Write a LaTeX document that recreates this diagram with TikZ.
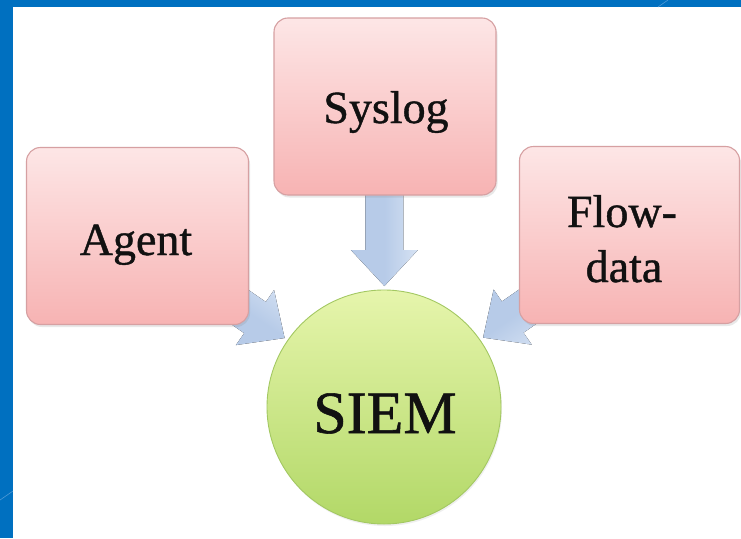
\documentclass[tikz,border=0pt]{standalone}
\usepackage{fontspec}
\setmainfont{Liberation Serif}[FakeBold=0.6]
\newfontfamily\heavyserif{Liberation Serif}[FakeBold=0.9]
\usetikzlibrary{shadows,calc}
\definecolor{frameblue}{HTML}{0070C0}
\definecolor{framelight}{HTML}{4F9AD6}
\definecolor{pinktop}{HTML}{FDE6E6}
\definecolor{pinkbot}{HTML}{F7B3B3}
\definecolor{pinkedge}{HTML}{D6A0A2}
\definecolor{greentop}{HTML}{E6F5AC}
\definecolor{greenbot}{HTML}{B2D867}
\definecolor{greenedge}{HTML}{A3C862}
\definecolor{arrowblue}{HTML}{B7CBE8}
\definecolor{arrowlight}{HTML}{D6E2F3}
\definecolor{inkc}{HTML}{111111}
\tikzset{
  srcbox/.style={draw=pinkedge, line width=1.1pt, rounded corners=14pt,
    top color=pinktop, bottom color=pinkbot, minimum width=222pt, minimum height=177pt,
    inner sep=0pt, drop shadow={opacity=0.18, shadow xshift=1.5pt, shadow yshift=-2.5pt}},
  hubcircle/.style={circle, draw=greenedge, line width=0.9pt, top color=greentop,
    bottom color=greenbot, minimum size=234pt, inner sep=0pt,
    drop shadow={opacity=0.12, shadow xshift=1pt, shadow yshift=-2pt}},
  lbl/.style={text=inkc, font=\heavyserif\fontsize{46}{50}\selectfont, inner sep=0pt, anchor=base},
  hublbl/.style={text=inkc, font=\heavyserif\fontsize{60}{64}\selectfont, inner sep=0pt, anchor=base},
  blockarrow/.style={draw=none, left color=arrowlight, right color=arrowblue, middle color=arrowblue}
}
\begin{document}
\begin{tikzpicture}[x=1pt, y=-1pt]
\useasboundingbox (0,0) rectangle (741,538);
\fill[white] (0,0) rectangle (741,538);
% frame
\fill[frameblue] (0,0) rectangle (741,7);
\fill[frameblue] (0,0) rectangle (13,538);
\draw[framelight, line width=0.6pt] (658,7) -- (668,0);
\draw[framelight, line width=0.6pt] (0,500) -- (13,491);
% named positions
\coordinate (siemc) at (384,407);
\coordinate (syslogc) at (385,106.5);
\coordinate (agentc) at (137.5,236);
\coordinate (flowc) at (629.5,235);
% arrows (behind)
\coordinate (tipS) at ($(siemc)!121pt!(syslogc)$);
\coordinate (tipA) at ($(siemc)!121pt!(agentc)$);
\coordinate (tipF) at ($(siemc)!121pt!(flowc)$);
\foreach \t/\a in {tipS/-90, tipA/-34.7, tipF/-145.3}{
  \fill[blockarrow, shift={(\t)}, rotate=\a, shading angle=\a]
    (0,0) -- (-36,33.5) -- (-36,19) -- (-100,19) -- (-100,-19) -- (-36,-19) -- (-36,-33.5) -- cycle;
}
% boxes
\node[srcbox] (syslog) at (syslogc) {};
\node[srcbox] (agent) at (agentc) {};
\node[srcbox, minimum width=220pt] (flow) at (flowc) {};
\node[hubcircle] (siem) at (siemc) {};
% labels
\node[lbl] (sysloglbl) at (386,123) {Syslog};
\node[lbl] (agentlbl) at (136,255) {Agent};
\node[lbl] (flowlbl1) at (622,227) {Flow-};
\node[lbl] (flowlbl2) at (624,282) {data};
\node[hublbl] (siemlbl) at (385,433) {SIEM};
\end{tikzpicture}
\end{document}
